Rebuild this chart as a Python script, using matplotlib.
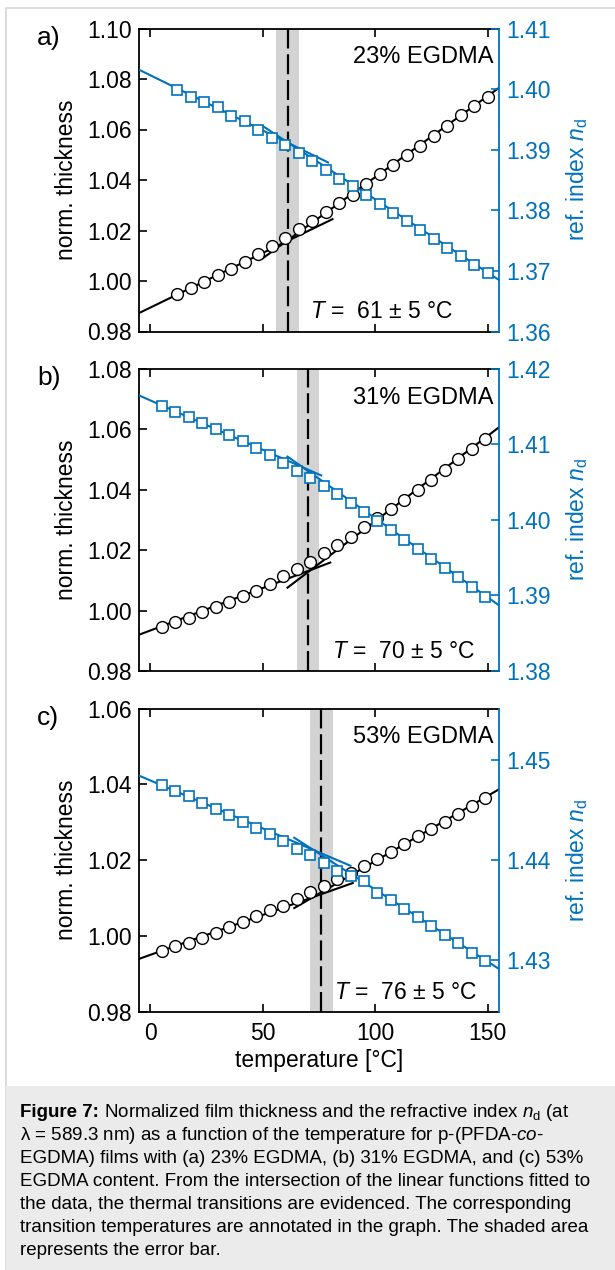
import matplotlib
matplotlib.use("Agg")
import matplotlib.pyplot as plt
from matplotlib.patches import Rectangle

plt.rcParams['font.family'] = ['Liberation Sans', 'DejaVu Sans']
plt.rcParams['mathtext.fontset'] = 'custom'
plt.rcParams['mathtext.rm'] = 'Liberation Sans'
plt.rcParams['mathtext.it'] = 'Liberation Sans:italic'
plt.rcParams['mathtext.bf'] = 'Liberation Sans:bold'

# temperaturas das medidas
temp_a = [12, 18, 24, 30, 36, 42, 48, 54, 60, 66, 72, 78, 84, 90, 96, 102,
          108, 114, 120, 126, 132, 138, 144, 150]
temp_bc = [5, 11, 17, 23, 29, 35, 41, 47, 53, 59, 65, 71, 77, 83, 89, 95,
           101, 107, 113, 119, 125, 131, 137, 143, 149]

thick_a = [0.9949, 0.9974, 0.9997, 1.0023, 1.0049, 1.0075, 1.0105, 1.0139,
           1.0171, 1.0205, 1.0237, 1.0275, 1.0309, 1.0342, 1.0383, 1.0423,
           1.0461, 1.0500, 1.0536, 1.0575, 1.0614, 1.0657, 1.0693, 1.0727]
index_a = [1.3998, 1.3987, 1.3979, 1.3971, 1.3956, 1.3948, 1.3932, 1.3920,
           1.3907, 1.3894, 1.3881, 1.3866, 1.3851, 1.3840, 1.3825, 1.3810,
           1.3795, 1.3782, 1.3767, 1.3752, 1.3737, 1.3724, 1.3709, 1.3697]

thick_b = [0.9946, 0.9961, 0.9977, 0.9995, 1.0012, 1.0029, 1.0047, 1.0066,
           1.0087, 1.0114, 1.0138, 1.0162, 1.0191, 1.0217, 1.0244, 1.0278,
           1.0307, 1.0335, 1.0366, 1.0399, 1.0433, 1.0464, 1.0501, 1.0535, 1.0569]
index_b = [1.4151, 1.4143, 1.4136, 1.4129, 1.4121, 1.4113, 1.4105, 1.4096,
           1.4086, 1.4076, 1.4065, 1.4056, 1.4045, 1.4034, 1.4023, 1.4010,
           1.3999, 1.3987, 1.3973, 1.3961, 1.3949, 1.3937, 1.3924, 1.3911, 1.3898]

thick_c = [0.9960, 0.9973, 0.9982, 0.9995, 1.0009, 1.0024, 1.0037, 1.0052,
           1.0068, 1.0080, 1.0099, 1.0116, 1.0131, 1.0150, 1.0166, 1.0184,
           1.0203, 1.0223, 1.0242, 1.0263, 1.0282, 1.0301, 1.0322, 1.0344, 1.0363]
index_c = [1.4475, 1.4469, 1.4464, 1.4457, 1.4451, 1.4445, 1.4438, 1.4432,
           1.4426, 1.4419, 1.4411, 1.4405, 1.4397, 1.4389, 1.4384, 1.4379,
           1.4367, 1.4360, 1.4351, 1.4343, 1.4334, 1.4325, 1.4317, 1.4307, 1.4299]

# retas ajustadas (x inicial/final, y inicial/final)
fit_thick_low_a = ([-5, 81], [0.9873, 1.0245])
fit_thick_high_a = ([50, 155], [1.0090, 1.0765])
fit_index_low_a = ([-5, 79], [1.4032, 1.3879])
fit_index_high_a = ([50, 155], [1.3939, 1.3685])

fit_thick_low_b = ([-5, 80], [0.9920, 1.0159])
fit_thick_high_b = ([61, 155], [1.0076, 1.0607])
fit_index_low_b = ([-5, 76], [1.4165, 1.4059])
fit_index_high_b = ([61, 155], [1.4084, 1.3887])

fit_thick_low_c = ([-5, 90], [0.9940, 1.0140])
fit_thick_high_c = ([64, 155], [1.0074, 1.0387])
fit_index_low_c = ([-5, 89], [1.4484, 1.4394])
fit_index_high_c = ([64, 155], [1.4422, 1.4291])

# temperatura de transicao e erro
trans_T = [61, 70, 76]
trans_err = [5, 5, 5]
labels = ['23% EGDMA', '31% EGDMA', '53% EGDMA']
letters = ['a)', 'b)', 'c)']

left_lims = [(0.98, 1.10), (0.98, 1.08), (0.98, 1.06)]
left_ticks = [[0.98, 1.00, 1.02, 1.04, 1.06, 1.08, 1.10],
              [0.98, 1.00, 1.02, 1.04, 1.06, 1.08],
              [0.98, 1.00, 1.02, 1.04, 1.06]]
right_lims = [(1.36, 1.41), (1.38, 1.42), (1.4248, 1.4551)]
right_ticks = [[1.36, 1.37, 1.38, 1.39, 1.40, 1.41],
               [1.38, 1.39, 1.40, 1.41, 1.42],
               [1.43, 1.44, 1.45]]
x_ticks = [0, 50, 100, 150]

paineis = [
    (temp_a, thick_a, index_a, fit_thick_low_a, fit_thick_high_a, fit_index_low_a, fit_index_high_a),
    (temp_bc, thick_b, index_b, fit_thick_low_b, fit_thick_high_b, fit_index_low_b, fit_index_high_b),
    (temp_bc, thick_c, index_c, fit_thick_low_c, fit_thick_high_c, fit_index_low_c, fit_index_high_c),
]

blue = '#0072BD'
fs = 16.5
W, H = 615.0, 1270.0

fig = plt.figure(figsize=(6.15, 12.7), dpi=100)

# moldura e caixa da legenda
fig.patches.append(Rectangle((6 / W, -0.01), 1.0, 1 - 8 / H + 0.01, transform=fig.transFigure,
                             facecolor='white', edgecolor='#d6d6d6', lw=1.2, zorder=-2))
fig.patches.append(Rectangle((6 / W, -0.01), 1.0, 0.01 + 1 - 1086 / H, transform=fig.transFigure,
                             facecolor='#ebebeb', edgecolor='none', zorder=-1))

axes_px = [(28.5, 331.5), (369, 671), (708.5, 1012)]
left_px, right_px = 139, 499
text_x = [0.475, 0.536, 0.541]

for i, (temp, thick, index, tl, th, il, ih) in enumerate(paineis):
    top, bot = axes_px[i]
    ax = fig.add_axes([left_px / W, 1 - bot / H, (right_px - left_px) / W, (bot - top) / H])
    ax2 = ax.twinx()

    T = trans_T[i]
    ax.axvspan(T - trans_err[i], T + trans_err[i], color='#d3d3d3', lw=0, zorder=0)
    ax.axvline(T, color='k', lw=1.6, dashes=(9, 2.6), zorder=1)

    ax.plot(tl[0], tl[1], color='k', lw=1.5, zorder=2)
    ax.plot(th[0], th[1], color='k', lw=1.5, zorder=2)
    ax.plot(temp, thick, 'o', ms=8.5, mfc='white', mec='k', mew=1.0, zorder=3)

    ax2.plot(il[0], il[1], color=blue, lw=1.5, zorder=2)
    ax2.plot(ih[0], ih[1], color=blue, lw=1.5, zorder=2)
    ax2.plot(temp, index, 's', ms=7.5, mfc='white', mec=blue, mew=1.2, zorder=3)

    ax.set_xlim(-5, 155)
    ax.set_ylim(*left_lims[i])
    ax.set_yticks(left_ticks[i])
    ax.set_yticklabels(['%.2f' % v for v in left_ticks[i]])
    ax.set_xticks(x_ticks)
    ax2.set_ylim(*right_lims[i])
    ax2.set_yticks(right_ticks[i])
    ax2.set_yticklabels(['%.2f' % v for v in right_ticks[i]])

    ax.tick_params(axis='both', direction='in', top=True, right=False, length=5.5,
                   width=1.2, labelsize=fs, pad=5)
    ax.tick_params(axis='x', pad=7)
    ax2.tick_params(axis='y', direction='in', length=5.5, width=1.2, colors=blue,
                    labelsize=fs, pad=5)

    for s in ['left', 'top', 'bottom']:
        ax.spines[s].set_linewidth(1.3)
        ax2.spines[s].set_visible(False)
    ax.spines['right'].set_visible(False)
    ax2.spines['right'].set_color(blue)
    ax2.spines['right'].set_linewidth(1.3)

    if i < 2:
        ax.tick_params(axis='x', labelbottom=False)
    else:
        ax.set_xlabel('temperature [°C]', fontsize=fs, labelpad=3)

    ax.set_ylabel('norm. thickness', fontsize=fs)
    ax.yaxis.set_label_coords(-0.17, 0.5)
    ax2.set_ylabel(r'ref. index $n_\mathrm{d}$', fontsize=fs, color=blue)
    ax2.yaxis.set_label_coords(1.18, 0.5)

    ax2.text(0.985, 0.905, labels[i], transform=ax2.transAxes, ha='right', va='center',
             fontsize=17, zorder=5)
    ax2.text(text_x[i], 0.065, r'$T$ =  %d ± %d °C' % (T, trans_err[i]),
             transform=ax2.transAxes, ha='left', va='center', fontsize=fs, zorder=5)

    fig.text(37 / W, 1 - (top - 3) / H, letters[i], fontsize=19, ha='left', va='top')

# legenda da figura
cap_fs = 13.5
linhas = [
    r' Normalized film thickness and the refractive index $n_\mathrm{d}$ (at',
    r'λ = 589.3 nm) as a function of the temperature for p-(PFDA-$\mathit{co}$-',
    'EGDMA) films with (a) 23% EGDMA, (b) 31% EGDMA, and (c) 53%',
    'EGDMA content. From the intersection of the linear functions fitted to',
    'the data, the thermal transitions are evidenced. The corresponding',
    'transition temperatures are annotated in the graph. The shaded area',
    'represents the error bar.',
]
x0 = 20 / W
y0 = 1117.0
dy = 23.0
r = fig.canvas.get_renderer()
t1 = fig.text(x0, 1 - y0 / H, 'Figure 7:', fontweight='bold', fontsize=cap_fs, va='baseline')
w = t1.get_window_extent(r).width / fig.bbox.width
fig.text(x0 + w, 1 - y0 / H, linhas[0], fontsize=cap_fs, va='baseline')
for k, linha in enumerate(linhas[1:], start=1):
    fig.text(x0, 1 - (y0 + k * dy) / H, linha, fontsize=cap_fs, va='baseline')

fig.savefig('out.png', dpi=100)
